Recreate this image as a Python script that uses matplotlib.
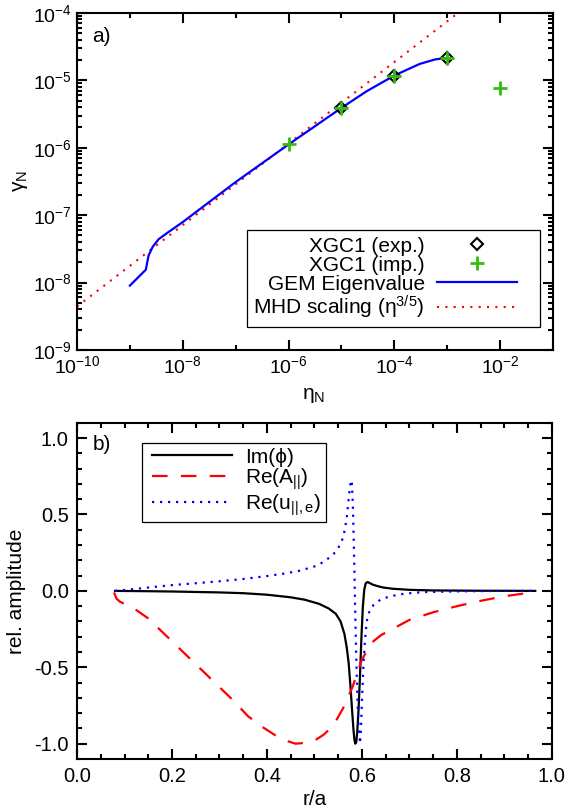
import matplotlib
matplotlib.use("Agg")
import matplotlib.pyplot as plt
import matplotlib.ticker as mticker
from matplotlib.legend_handler import HandlerLine2D

plt.rcParams['font.family'] = ['Liberation Sans', 'DejaVu Sans']
plt.rcParams['mathtext.default'] = 'regular'
plt.rcParams['axes.unicode_minus'] = False

# ---- panel a) growth rate vs resistivity ----
eta_gem = [1e-9, 2e-9, 2.1e-9, 2.25e-9, 2.7e-9, 3.5e-9, 5e-9, 1e-8, 1e-7, 1e-6,
           1e-5, 3e-5, 1e-4, 3e-4, 6e-4, 1e-3]
gam_gem = [9e-9, 1.55e-8, 1.9e-8, 2.5e-8, 3.4e-8, 4.4e-8, 5.4e-8, 7.9e-8, 3.1e-7,
           1.12e-6, 3.9e-6, 6.9e-6, 1.18e-5, 1.75e-5, 2.05e-5, 2.15e-5]

eta_mhd = [1e-10, 1.6e-3]
gam_mhd = [4.4e-9, 1e-4]

eta_exp = [1e-5, 1e-4, 1e-3]
gam_exp = [3.9e-6, 1.18e-5, 2.15e-5]

eta_imp = [1e-6, 1e-5, 1e-4, 1e-3, 1e-2]
gam_imp = [1.12e-6, 3.9e-6, 1.18e-5, 2.15e-5, 7.7e-6]

# ---- panel b) eigenfunction profiles ----
r_phi = [0.08, 0.15, 0.20, 0.25, 0.30, 0.35, 0.40, 0.45, 0.48, 0.51, 0.53, 0.545,
         0.555, 0.563, 0.568, 0.572, 0.576, 0.579, 0.582, 0.584, 0.586, 0.588, 0.590,
         0.593, 0.596, 0.599, 0.602, 0.605, 0.608, 0.612, 0.616, 0.622, 0.632, 0.645,
         0.665, 0.70, 0.75, 0.85, 0.965]
im_phi = [0.0, -0.002, -0.004, -0.007, -0.01, -0.015, -0.025, -0.042, -0.058, -0.085,
          -0.115, -0.15, -0.2, -0.28, -0.37, -0.47, -0.63, -0.77, -0.9, -0.97, -1.0,
          -0.99, -0.93, -0.77, -0.55, -0.3, -0.1, 0.01, 0.05, 0.058, 0.052, 0.042,
          0.032, 0.022, 0.014, 0.007, 0.003, 0.001, 0.0]

r_apar = [0.078, 0.083, 0.09, 0.12, 0.15, 0.18, 0.21, 0.24, 0.27, 0.30, 0.33, 0.36,
          0.39, 0.42, 0.44, 0.46, 0.48, 0.50, 0.52, 0.54, 0.56, 0.58, 0.60, 0.62,
          0.64, 0.67, 0.70, 0.75, 0.80, 0.85, 0.90, 0.93, 0.965]
re_apar = [-0.01, -0.05, -0.07, -0.115, -0.18, -0.27, -0.36, -0.45, -0.54, -0.63,
           -0.72, -0.82, -0.89, -0.95, -0.98, -1.0, -0.995, -0.98, -0.94, -0.88,
           -0.77, -0.63, -0.45, -0.34, -0.29, -0.24, -0.19, -0.14, -0.1, -0.065,
           -0.035, -0.022, -0.008]

r_upar = [0.08, 0.12, 0.16, 0.20, 0.25, 0.30, 0.35, 0.40, 0.44, 0.47, 0.50, 0.52,
          0.54, 0.55, 0.558, 0.564, 0.568, 0.571, 0.574, 0.577, 0.579, 0.581, 0.583,
          0.585, 0.587, 0.589, 0.591, 0.593, 0.596, 0.598, 0.600, 0.603, 0.606, 0.610,
          0.616, 0.625, 0.64, 0.66, 0.69, 0.73, 0.8, 0.9, 0.965]
re_upar = [0.0, 0.012, 0.025, 0.038, 0.05, 0.063, 0.078, 0.097, 0.115, 0.133, 0.16,
           0.19, 0.24, 0.28, 0.33, 0.40, 0.48, 0.57, 0.66, 0.725, 0.70, 0.55, 0.3,
           0.0, -0.3, -0.55, -0.75, -0.88, -1.0, -0.9, -0.72, -0.5, -0.34, -0.2,
           -0.13, -0.09, -0.055, -0.035, -0.018, -0.008, -0.003, 0.0, 0.0]

green = '#33bb11'


class ShortRight(HandlerLine2D):
    # leave some empty room to the right of the legend sample (IDL-style box)
    def __init__(self, room, **kw):
        super().__init__(**kw)
        self.room = room

    def get_xdata(self, legend, xdescent, ydescent, width, height, fontsize):
        return super().get_xdata(legend, xdescent, ydescent, width - self.room,
                                 height, fontsize)


fig = plt.figure(figsize=(5.68, 8.10), dpi=100)
ax1 = fig.add_axes([0.1356, 0.568, 0.838, 0.416])
ax2 = fig.add_axes([0.1356, 0.063, 0.836, 0.415])

# panel a
h_mhd, = ax1.plot(eta_mhd, gam_mhd, color='red', lw=1.5, linestyle=(0, (1, 3)),
                  label='MHD scaling ($\\eta^{3/5}$)')
h_gem, = ax1.plot(eta_gem, gam_gem, color='blue', lw=1.6, label='GEM Eigenvalue')
h_exp, = ax1.plot(eta_exp, gam_exp, linestyle='none', marker='D', ms=6.5,
                  mfc='none', mec='black', mew=1.5, label='XGC1 (exp.)')
h_imp, = ax1.plot(eta_imp, gam_imp, linestyle='none', marker='+', ms=10,
                  mec=green, mew=2, label='XGC1 (imp.)')
ax1.set_xscale('log')
ax1.set_yscale('log')
ax1.set_xlim(1e-10, 1e-1)
ax1.set_ylim(1e-9, 1e-4)
ax1.xaxis.set_major_locator(mticker.LogLocator(base=100.0, numticks=20))
ax1.xaxis.set_minor_locator(mticker.LogLocator(base=10.0, subs=(1.0,), numticks=20))
ax1.xaxis.set_minor_formatter(mticker.NullFormatter())
ax1.yaxis.set_major_locator(mticker.LogLocator(base=10.0, numticks=20))
ax1.yaxis.set_minor_locator(mticker.LogLocator(base=10.0, subs=range(2, 10), numticks=20))
ax1.yaxis.set_minor_formatter(mticker.NullFormatter())
ax1.tick_params(which='both', direction='in', top=True, right=True, width=1.5,
                labelsize=14, pad=4)
ax1.tick_params(which='major', length=7)
ax1.tick_params(which='minor', length=3.5)
ax1.set_xlabel('$\\eta_N$', fontsize=15)
ax1.set_ylabel('$\\gamma_N$', fontsize=15)
ax1.xaxis.set_label_coords(0.496, -0.108)
ax1.yaxis.set_label_coords(-0.098, 0.5)
ax1.text(0.032, 0.93, 'a)', transform=ax1.transAxes, fontsize=15, va='center')
room = 12.0
hmap = {h: ShortRight(room) for h in (h_exp, h_imp, h_gem, h_mhd)}
leg1 = ax1.legend(handles=[h_exp, h_imp, h_gem, h_mhd], loc='lower right',
                  bbox_to_anchor=(0.973, 0.068), borderaxespad=0, markerfirst=False,
                  fancybox=False, edgecolor='black', framealpha=1, fontsize=15,
                  handlelength=(57.6 + room) / 15, handletextpad=0.6, labelspacing=0,
                  borderpad=0.3, numpoints=1, handler_map=hmap)
leg1.get_frame().set_linewidth(0.9)

# panel b
h_phi, = ax2.plot(r_phi, im_phi, color='black', lw=1.6, label='Im(ϕ)')
h_apar, = ax2.plot(r_apar, re_apar, color='red', lw=1.6, linestyle=(0, (7, 6)),
                   label='Re(A$_{||}$)')
h_upar, = ax2.plot(r_upar, re_upar, color='blue', lw=1.6, linestyle=(0, (1, 2.6)),
                   label='Re(u$_{||,e}$)')
ax2.set_xlim(0.0, 1.0)
ax2.set_ylim(-1.1, 1.1)
ax2.xaxis.set_major_locator(mticker.MultipleLocator(0.2))
ax2.xaxis.set_minor_locator(mticker.MultipleLocator(0.05))
ax2.yaxis.set_major_locator(mticker.MultipleLocator(0.5))
ax2.yaxis.set_minor_locator(mticker.MultipleLocator(0.1))
ax2.xaxis.set_major_formatter(mticker.FormatStrFormatter('%.1f'))
ax2.yaxis.set_major_formatter(mticker.FormatStrFormatter('%.1f'))
ax2.tick_params(which='both', direction='in', top=True, right=True, width=1.5,
                labelsize=14.5, pad=6)
ax2.tick_params(which='major', length=7)
ax2.tick_params(which='minor', length=3.5)
ax2.set_xlabel('r/a', fontsize=15)
ax2.set_ylabel('rel. amplitude', fontsize=15)
ax2.xaxis.set_label_coords(0.5, -0.092)
ax2.yaxis.set_label_coords(-0.107, 0.5)
ax2.text(0.032, 0.935, 'b)', transform=ax2.transAxes, fontsize=15, va='center')
xpad = 4.0 / 15
hmap2 = {h: HandlerLine2D(xpad=xpad) for h in (h_phi, h_apar, h_upar)}
leg2 = ax2.legend(handles=[h_phi, h_apar, h_upar], loc='upper left',
                  bbox_to_anchor=(0.137, 0.94), borderaxespad=0,
                  fancybox=False, edgecolor='black', framealpha=1, fontsize=15,
                  handlelength=57.6 / 15 + xpad, handletextpad=0.6, labelspacing=0,
                  borderpad=0.22, handler_map=hmap2)
leg2.get_frame().set_linewidth(0.9)

for ax in (ax1, ax2):
    for sp in ax.spines.values():
        sp.set_linewidth(1.5)

fig.savefig('out.png', dpi=100)
